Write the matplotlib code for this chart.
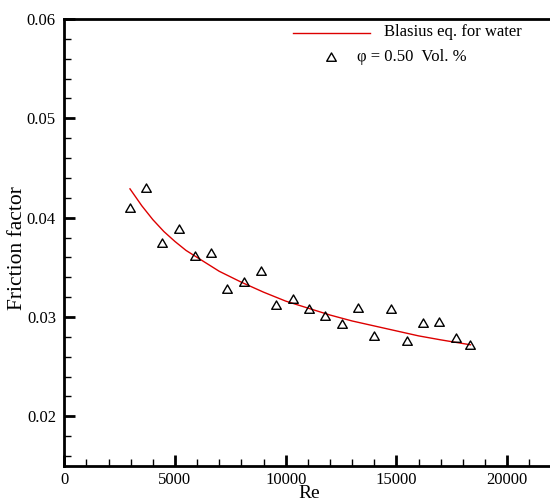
import matplotlib
matplotlib.use('Agg')
import matplotlib.pyplot as plt
from matplotlib.path import Path
from matplotlib.ticker import MultipleLocator, FuncFormatter

# measured points, phi = 0.50 vol. %
re_data = [2967, 3690, 4426, 5167, 5903, 6640, 7362, 8103, 8884, 9575, 10316,
           11052, 11789, 12529, 13266, 14002, 14743, 15465, 16201, 16938, 17678, 18347]
f_data = [0.0409, 0.0429, 0.0373, 0.0388, 0.0360, 0.0363, 0.0327, 0.0334, 0.0345, 0.0311, 0.0317,
          0.0307, 0.0300, 0.0292, 0.0308, 0.0280, 0.0307, 0.0275, 0.0293, 0.0294, 0.0278, 0.0271]

# Blasius curve for water
re_blasius = [2967, 3250, 3500, 3750, 4000, 4500, 5000, 5500, 6000, 6500, 7000, 8000, 9000, 10000,
              11000, 12000, 13000, 14000, 15000, 16000, 17000, 18350]
f_blasius = [0.0429, 0.0420, 0.0412, 0.0405, 0.0398, 0.0386, 0.0376, 0.0367, 0.0360, 0.0353,
             0.0346, 0.0335, 0.0325, 0.0316, 0.0309, 0.0302, 0.0296, 0.0291, 0.0286, 0.0281,
             0.0277, 0.0272]

plt.rcParams['font.family'] = ['Liberation Serif', 'DejaVu Serif']

fig = plt.figure(figsize=(5.5, 5.03), dpi=100)
ax = fig.add_axes([0.1169, 0.0736, 0.8831, 0.8886])

red = '#dd0000'
# open equilateral triangle, like the tecplot symbol
tri = Path([(0, 1), (-0.866, -0.5), (0.866, -0.5), (0, 1)],
           [Path.MOVETO, Path.LINETO, Path.LINETO, Path.CLOSEPOLY])

ax.plot(re_blasius, f_blasius, color=red, lw=1.0)
ax.plot(re_data, f_data, ls='none', marker=tri, ms=8, mfc='none', mec='black', mew=1.0)

ax.set_xlim(0, 21940)
ax.set_ylim(0.0150, 0.06)
ax.xaxis.set_major_locator(MultipleLocator(5000))
ax.xaxis.set_minor_locator(MultipleLocator(1000))
ax.yaxis.set_major_locator(MultipleLocator(0.01))
ax.yaxis.set_minor_locator(MultipleLocator(0.002))
ax.xaxis.set_major_formatter(FuncFormatter(lambda v, p: '%d' % v))
ax.yaxis.set_major_formatter(FuncFormatter(lambda v, p: '%.2f' % v))

ax.tick_params(which='major', direction='in', length=8, width=2, labelsize=12, pad=6,
               top=False, right=False)
ax.tick_params(axis='x', which='major', pad=4)
ax.tick_params(which='minor', direction='in', length=5, width=1, top=False, right=False)

for side in ('left', 'bottom', 'top'):
    ax.spines[side].set_linewidth(2.0)
ax.spines['right'].set_visible(False)

fig.text(0.0327, 0.507, 'Friction factor', rotation=90, ha='center', va='center', fontsize=15.5)
fig.text(0.5618, 0.002, 'Re', ha='center', va='bottom', fontsize=14)

# legend drawn by hand, no frame
ax.plot([0.4702, 0.6294], [0.968, 0.968], color=red, lw=1.0, transform=ax.transAxes)
ax.text(0.6588, 0.9716, 'Blasius eq. for water', transform=ax.transAxes,
        ha='left', va='center', fontsize=12)
ax.plot([0.5491], [0.9134], ls='none', marker=tri, ms=8, mfc='none', mec='black', mew=1.0,
        transform=ax.transAxes)
ax.text(0.6032, 0.9157, '\u03c6 = 0.50  Vol. %', transform=ax.transAxes,
        ha='left', va='center', fontsize=12)

fig.savefig('out.png', dpi=100)
